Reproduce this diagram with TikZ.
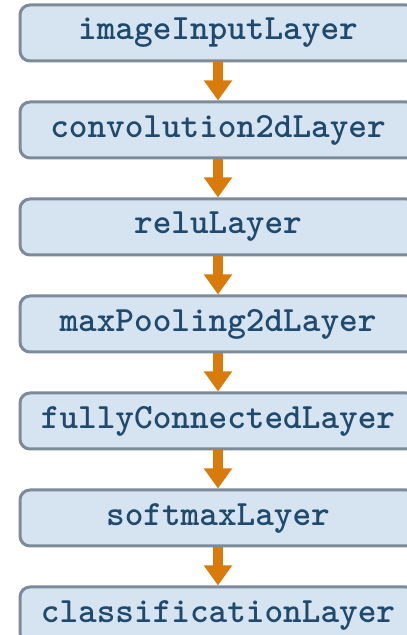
\documentclass[tikz,border=0pt]{standalone}
\usepackage{fontspec}
\usepackage{tikz}
\usetikzlibrary{positioning,arrows.meta}
\definecolor{boxfill}{HTML}{D6E3F1}
\definecolor{boxline}{HTML}{7D8A99}
\definecolor{boxtext}{HTML}{1F4A6C}
\definecolor{arroworange}{HTML}{D97A0C}

\begin{document}
\begin{tikzpicture}[auto, node distance=38pt,
	main node/.style={rectangle,rounded corners=10pt,draw=boxline,fill=boxfill,line width=3pt,
		minimum width=396pt,minimum height=56pt,text=boxtext,
		font=\ttfamily\bfseries\fontsize{35.5}{37}\selectfont},
	layer arrow/.style={draw=arroworange,line width=10pt,
		-{Triangle[width=27pt,length=20pt,fill=arroworange]}}]
	
	\useasboundingbox (0,0) rectangle (407pt,635pt);
	\clip (0,0) rectangle (407pt,635pt);
	
	\node[main node] (1) at (218pt,602pt) {imageInputLayer};
	\node[main node] (2) [below=of 1] {convolution2dLayer};
	\node[main node] (3) [below=of 2] {reluLayer};
	\node[main node] (4) [below=of 3] {maxPooling2dLayer};
	\node[main node] (5) [below=of 4] {fullyConnectedLayer};
	\node[main node] (6) [below=of 5] {softmaxLayer};
	\node[main node] (7) [below=of 6] {classificationLayer};
	
	\foreach \a/\b in {1/2,2/3,3/4,4/5,5/6,6/7}
	\draw[layer arrow] (\a.south) -- (\b.north);
\end{tikzpicture}
\end{document}
